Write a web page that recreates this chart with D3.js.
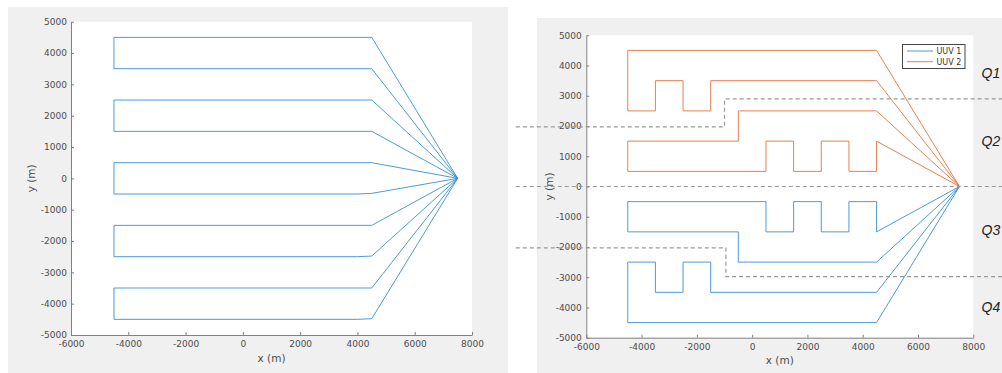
<!DOCTYPE html>
<html>
<head>
<meta charset="utf-8">
<script src="https://cdn.jsdelivr.net/npm/d3@7"></script>
<style>
  body { margin: 0; background: #fff; }
  svg { display: block; }
  .axis path, .axis line { stroke: #808080; }
  .axis text { fill: #4d4d4d; font-family: "DejaVu Sans", sans-serif; font-size: 9px; }
  .lbl { fill: #4d4d4d; font-family: "DejaVu Sans", sans-serif; font-size: 10.5px; }
</style>
</head>
<body>
<script>
var xTicks = [-6000, -4000, -2000, 0, 2000, 4000, 6000, 8000];
var yTicks = [5000, 4000, 3000, 2000, 1000, 0, -1000, -2000, -3000, -4000, -5000];

// left figure: single lawnmower track
var leftTrack = [
  [7500, 0], [4500, 4500], [-4500, 4500], [-4500, 3500], [4500, 3500], [7500, 0],
  [4500, 2500], [-4500, 2500], [-4500, 1500], [4500, 1500], [7500, 0],
  [4500, 500], [-4500, 500], [-4500, -500], [4000, -500], [4500, -480], [7500, 0],
  [4500, -1500], [-4500, -1500], [-4500, -2500], [4000, -2500], [4500, -2480], [7500, 0],
  [4500, -3500], [-4500, -3500], [-4500, -4500], [4000, -4500], [4500, -4480], [7500, 0]
];

// right figure: two vehicles
var uuv1Track = [
  [7500, 0], [4500, -1500], [4500, -500], [3500, -500], [3500, -1500], [2500, -1500],
  [2500, -500], [1500, -500], [1500, -1500], [500, -1500], [500, -500], [-4500, -500],
  [-4500, -1500], [-500, -1500], [-500, -2500], [4500, -2500], [7500, 0],
  [4500, -3500], [-1500, -3500], [-1500, -2500], [-2500, -2500], [-2500, -3500],
  [-3500, -3500], [-3500, -2500], [-4500, -2500], [-4500, -4500], [4500, -4500], [7500, 0]
];
var uuv2Track = [
  [7500, 0], [4500, 4500], [-4500, 4500], [-4500, 2500], [-3500, 2500], [-3500, 3500],
  [-2500, 3500], [-2500, 2500], [-1500, 2500], [-1500, 3500], [4500, 3500], [7500, 0],
  [4500, 2500], [-500, 2500], [-500, 1500], [-4500, 1500], [-4500, 500], [500, 500],
  [500, 1500], [1500, 1500], [1500, 500], [2500, 500], [2500, 1500], [3500, 1500],
  [3500, 500], [4500, 500], [4500, 1500], [7500, 0]
];

// quadrant boundaries (run past the axes)
var upperBound = [[-8550, 1970], [-1000, 1970], [-1000, 2900], [9100, 2900]];
var middleBound = [[-8550, 0], [9100, 0]];
var lowerBound = [[-8550, -2030], [-950, -2030], [-950, -2980], [9100, -2980]];

var quadLabels = ['Q1', 'Q2', 'Q3', 'Q4'];
var quadY = [3750, 1500, -1450, -4000];

var seriesNames = ['UUV 1', 'UUV 2'];
var seriesColors = ['#3a8fd3', '#e3733f'];

var svg = d3.select('body').append('svg')
  .attr('width', 1002)
  .attr('height', 373);

var tickFmt = function(d) { return String(d); };

function drawPanel(bg, plot, pad) {
  svg.append('rect')
    .attr('x', bg.x).attr('y', bg.y)
    .attr('width', bg.w).attr('height', bg.h)
    .attr('fill', '#f0f0f0');

  svg.append('rect')
    .attr('x', plot.left).attr('y', plot.top)
    .attr('width', plot.right - plot.left).attr('height', plot.bottom - plot.top)
    .attr('fill', '#fff');

  var x = d3.scaleLinear().domain([-6000, 8000]).range([plot.left, plot.right]);
  var y = d3.scaleLinear().domain([-5000, 5000]).range([plot.bottom, plot.top]);

  svg.append('g')
    .attr('class', 'axis')
    .attr('transform', 'translate(0,' + plot.bottom + ')')
    .call(d3.axisBottom(x).tickValues(xTicks).tickFormat(tickFmt)
      .tickSizeInner(-3).tickSizeOuter(0).tickPadding(pad.x));

  svg.append('g')
    .attr('class', 'axis')
    .attr('transform', 'translate(' + plot.left + ',0)')
    .call(d3.axisLeft(y).tickValues(yTicks).tickFormat(tickFmt)
      .tickSizeInner(-3).tickSizeOuter(0).tickPadding(pad.y));

  svg.selectAll('.axis').attr('font-family', null).attr('font-size', null);

  svg.append('text')
    .attr('class', 'lbl')
    .attr('x', (plot.left + plot.right) / 2)
    .attr('y', pad.xl)
    .attr('text-anchor', 'middle')
    .text('x (m)');

  svg.append('text')
    .attr('class', 'lbl')
    .attr('transform', 'translate(' + pad.yl + ',' + y(0) + ') rotate(-90)')
    .attr('text-anchor', 'middle')
    .attr('dy', '0.35em')
    .text('y (m)');

  return {x: x, y: y};
}

// ---- left panel
var L = drawPanel({x: 8, y: 7, w: 500, h: 366},
                  {left: 71, right: 472, top: 21.7, bottom: 335},
                  {x: 6, y: 4, xl: 362, yl: 31.7});

var lineL = d3.line().x(function(d) { return L.x(d[0]); }).y(function(d) { return L.y(d[1]); });

svg.append('path')
  .attr('d', lineL(leftTrack))
  .attr('fill', 'none')
  .attr('stroke', seriesColors[0])
  .attr('stroke-width', 0.9);

// ---- right panel
var R = drawPanel({x: 537, y: 18, w: 465, h: 355},
                  {left: 586.3, right: 973.3, top: 35.3, bottom: 337.7},
                  {x: 6, y: 4.5, xl: 363.5, yl: 549});

var lineR = d3.line().x(function(d) { return R.x(d[0]); }).y(function(d) { return R.y(d[1]); });

[uuv1Track, uuv2Track].forEach(function(track, i) {
  svg.append('path')
    .attr('d', lineR(track))
    .attr('fill', 'none')
    .attr('stroke', seriesColors[i])
    .attr('stroke-width', 0.9);
});

[upperBound, middleBound, lowerBound].forEach(function(b) {
  svg.append('path')
    .attr('d', lineR(b))
    .attr('fill', 'none')
    .attr('stroke', '#999')
    .attr('stroke-width', 1.2)
    .attr('stroke-dasharray', '4,3');
});

quadLabels.forEach(function(q, i) {
  svg.append('text')
    .attr('x', 981.5)
    .attr('y', R.y(quadY[i]))
    .attr('dy', '0.35em')
    .style('font-family', '"Liberation Sans", Arial, sans-serif')
    .style('font-style', 'italic')
    .style('font-size', '14px')
    .attr('fill', '#222')
    .text(q);
});

var legend = svg.append('g')
  .attr('id', 'legend')
  .attr('transform', 'translate(902.5,44.5)');

legend.append('rect')
  .attr('width', 62.5)
  .attr('height', 24)
  .attr('fill', '#fff')
  .attr('stroke', '#444')
  .attr('stroke-width', 1);

seriesNames.forEach(function(name, i) {
  legend.append('line')
    .attr('x1', 4.5).attr('x2', 30.5)
    .attr('y1', 6.5 + i * 10.7).attr('y2', 6.5 + i * 10.7)
    .attr('stroke', seriesColors[i])
    .attr('stroke-width', 0.9);
  legend.append('text')
    .attr('x', 34)
    .attr('y', 6.5 + i * 10.7)
    .attr('dy', '0.35em')
    .style('font-family', '"DejaVu Sans", sans-serif')
    .style('font-size', '8px')
    .attr('fill', '#333')
    .text(name);
});
</script>
</body>
</html>
